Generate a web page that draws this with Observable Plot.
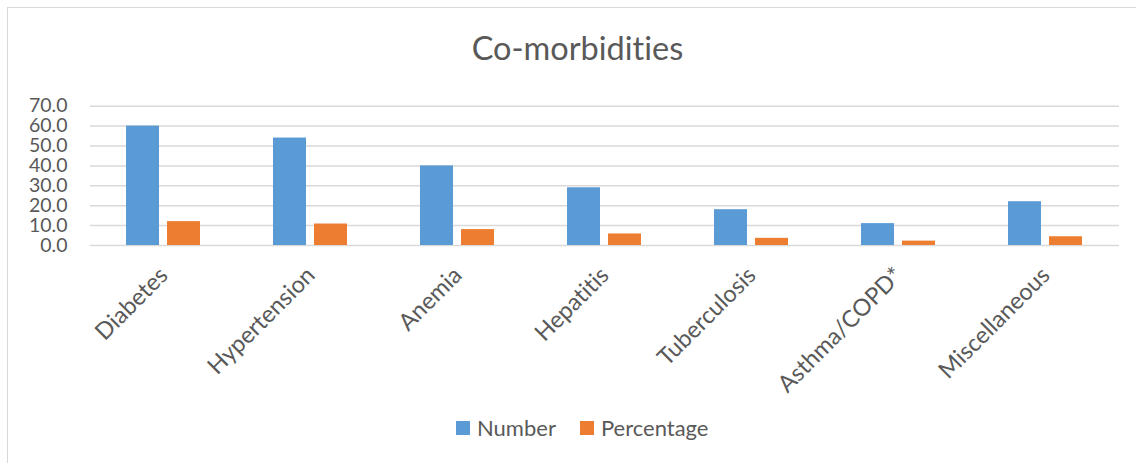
<!DOCTYPE html>
<html>
<head>
<meta charset="utf-8">
<script src="https://cdn.jsdelivr.net/npm/d3@7"></script>
<script src="https://cdn.jsdelivr.net/npm/@observablehq/plot@0.6"></script>
<style>
  html, body { margin: 0; padding: 0; background: #fff; }
  #wrap { position: relative; width: 1136px; height: 463px; overflow: hidden; font-family: Lato, sans-serif; color: #595959; font-variant-ligatures: none; }
  #frame { position: absolute; left: 7px; top: 7px; width: 1200px; height: 500px; border-left: 1.7px solid #d9d9d9; border-top: 1px solid #d9d9d9; box-sizing: border-box; }
  #title { position: absolute; left: 0; width: 1155px; top: 28px; text-align: center; font-size: 32.5px; line-height: 40px; }
  #chart { position: absolute; left: 0; top: 80px; }
  #chart svg text { font-variant-ligatures: none; }
  #legend { position: absolute; top: 416px; left: 456px; display: flex; align-items: center; font-size: 22px; line-height: 24px; }
  .sw { display: inline-block; width: 14px; height: 14px; margin-right: 7px; }
  .item { display: flex; align-items: center; margin-right: 24px; }
</style>
</head>
<body>
<div id="wrap">
  <div id="frame"></div>
  <div id="title">Co-morbidities</div>
  <div id="chart"></div>
  <div id="legend"></div>
</div>
<script>
const categories = ["Diabetes", "Hypertension", "Anemia", "Hepatitis", "Tuberculosis", "Asthma/COPD*", "Miscellaneous"];
const numberValues = [60, 54, 40, 29, 18, 11, 22];
const percentValues = [12.0, 10.8, 8.0, 5.8, 3.6, 2.2, 4.4];
const series = ["Number", "Percentage"];
const colors = ["#5b9bd5", "#ed7d31"];
const yTicks = [0, 10, 20, 30, 40, 50, 60, 70];

const rows = [];
categories.forEach((c, i) => {
  rows.push({category: c, series: series[0], value: numberValues[i]});
  rows.push({category: c, series: series[1], value: percentValues[i]});
});

const plot = Plot.plot({
  width: 1136,
  height: 330,
  marginLeft: 90,
  marginRight: 17,
  marginTop: 25.7,
  marginBottom: 165,
  style: {fontFamily: "Lato, sans-serif", color: "#595959", background: "transparent"},
  fx: {domain: categories, padding: 0, label: null},
  x: {domain: series, axis: null, paddingInner: 0.195, paddingOuter: 0.89},
  y: {domain: [0, 70], ticks: yTicks, label: null},
  color: {domain: series, range: colors},
  marks: [
    Plot.gridY(yTicks, {stroke: "#d9d9d9", strokeOpacity: 1, strokeWidth: 1.5}),
    Plot.barY(rows, {fx: "category", x: "series", y: "value", fill: "series"}),
    Plot.axisY(yTicks, {tickFormat: d3.format(".1f"), tickSize: 0, tickPadding: 23, fontSize: 19.5, fill: "#595959", label: null}),
    Plot.axisFx({anchor: "bottom", tickRotate: -45, tickSize: 0, tickPadding: 26, fontSize: 23.5, fill: "#595959", label: null})
  ]
});
document.getElementById("chart").appendChild(plot);

const legend = document.getElementById("legend");
series.forEach((s, i) => {
  const item = document.createElement("div");
  item.className = "item";
  const sw = document.createElement("span");
  sw.className = "sw";
  sw.style.background = colors[i];
  item.appendChild(sw);
  item.appendChild(document.createTextNode(s));
  legend.appendChild(item);
});
</script>
</body>
</html>
